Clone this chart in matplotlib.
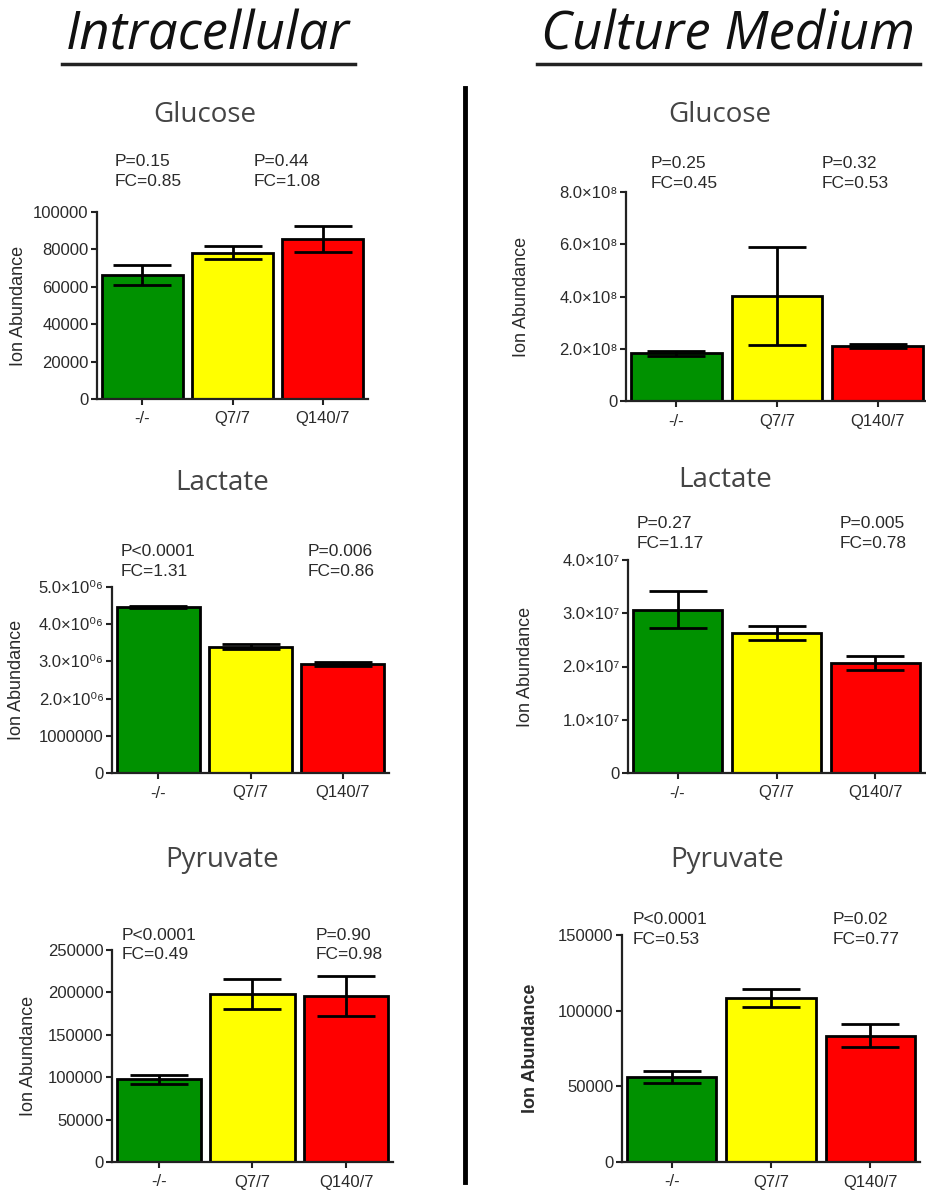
import matplotlib
matplotlib.use('Agg')
import matplotlib.pyplot as plt
from matplotlib.lines import Line2D

plt.rcParams['font.family'] = ['Liberation Sans', 'DejaVu Sans']

W, H = 926, 1196

# --- data ---
groups = ['-/-', 'Q7/7', 'Q140/7']
bar_colors = ['#009100', '#FFFF00', '#FF0000']

# intracellular
ic_glucose_mean = [66300, 78200, 85500]
ic_glucose_sem = [5500, 3500, 6800]
ic_lactate_mean = [4.46e6, 3.40e6, 2.93e6]
ic_lactate_sem = [0.02e6, 0.08e6, 0.06e6]
ic_pyruvate_mean = [97300, 198000, 195700]
ic_pyruvate_sem = [5000, 17500, 23500]

# culture medium
cm_glucose_mean = [1.82e8, 4.03e8, 2.11e8]
cm_glucose_sem = [0.10e8, 1.87e8, 0.08e8]
cm_lactate_mean = [3.07e7, 2.63e7, 2.06e7]
cm_lactate_sem = [0.35e7, 0.13e7, 0.13e7]
cm_pyruvate_mean = [56200, 108300, 83400]
cm_pyruvate_sem = [4200, 6000, 7700]

# statistics text (vs -/- and Q140/7 vs Q7/7)
ic_glucose_stats = ['P=0.15\nFC=0.85', 'P=0.44\nFC=1.08']
ic_lactate_stats = ['P<0.0001\nFC=1.31', 'P=0.006\nFC=0.86']
ic_pyruvate_stats = ['P<0.0001\nFC=0.49', 'P=0.90\nFC=0.98']
cm_glucose_stats = ['P=0.25\nFC=0.45', 'P=0.32\nFC=0.53']
cm_lactate_stats = ['P=0.27\nFC=1.17', 'P=0.005\nFC=0.78']
cm_pyruvate_stats = ['P<0.0001\nFC=0.53', 'P=0.02\nFC=0.77']

# y ticks
ic_glucose_ticks = [0, 20000, 40000, 60000, 80000, 100000]
ic_glucose_ticklabels = ['0', '20000', '40000', '60000', '80000', '100000']
ic_lactate_ticks = [0, 1e6, 2e6, 3e6, 4e6, 5e6]
ic_lactate_ticklabels = ['0', '1000000', '2.0×10⁰⁶', '3.0×10⁰⁶', '4.0×10⁰⁶', '5.0×10⁰⁶']
ic_pyruvate_ticks = [0, 50000, 100000, 150000, 200000, 250000]
ic_pyruvate_ticklabels = ['0', '50000', '100000', '150000', '200000', '250000']
cm_glucose_ticks = [0, 2e8, 4e8, 6e8, 8e8]
cm_glucose_ticklabels = ['0', '2.0×10⁸', '4.0×10⁸', '6.0×10⁸', '8.0×10⁸']
cm_lactate_ticks = [0, 1e7, 2e7, 3e7, 4e7]
cm_lactate_ticklabels = ['0', '1.0×10⁷', '2.0×10⁷', '3.0×10⁷', '4.0×10⁷']
cm_pyruvate_ticks = [0, 50000, 100000, 150000]
cm_pyruvate_ticklabels = ['0', '50000', '100000', '150000']


def px_rect(l, t, r, b):
    return [l / W, 1 - b / H, (r - l) / W, (b - t) / H]


# panel layout: name, axes box in px, title centre in px, stats x/y (data), ylabel x (axes frac)
panels = [
    dict(name='Glucose', box=(97, 212, 368, 399), title=(205, 115),
         mean=ic_glucose_mean, sem=ic_glucose_sem, stats=ic_glucose_stats,
         ticks=ic_glucose_ticks, labels=ic_glucose_ticklabels,
         sx=[-0.31, 1.23], sy=121700, ylx=-0.26, bold=False),
    dict(name='Lactate', box=(112, 587, 389, 773), title=(222, 483),
         mean=ic_lactate_mean, sem=ic_lactate_sem, stats=ic_lactate_stats,
         ticks=ic_lactate_ticks, labels=ic_lactate_ticklabels,
         sx=[-0.41, 1.62], sy=5.69e6, ylx=-0.314, bold=False),
    dict(name='Pyruvate', box=(112, 950, 393, 1162), title=(222, 860),
         mean=ic_pyruvate_mean, sem=ic_pyruvate_sem, stats=ic_pyruvate_stats,
         ticks=ic_pyruvate_ticks, labels=ic_pyruvate_ticklabels,
         sx=[-0.40, 1.67], sy=255900, ylx=-0.267, bold=False),
    dict(name='Glucose', box=(626, 192, 928, 401), title=(720, 115),
         mean=cm_glucose_mean, sem=cm_glucose_sem, stats=cm_glucose_stats,
         ticks=cm_glucose_ticks, labels=cm_glucose_ticklabels,
         sx=[-0.26, 1.44], sy=8.72e8, ylx=-0.318, bold=False),
    dict(name='Lactate', box=(628, 560, 925, 773), title=(725, 480),
         mean=cm_lactate_mean, sem=cm_lactate_sem, stats=cm_lactate_stats,
         ticks=cm_lactate_ticks, labels=cm_lactate_ticklabels,
         sx=[-0.41, 1.64], sy=4.50e7, ylx=-0.317, bold=False),
    dict(name='Pyruvate', box=(622, 935, 920, 1162), title=(727, 860),
         mean=cm_pyruvate_mean, sem=cm_pyruvate_sem, stats=cm_pyruvate_stats,
         ticks=cm_pyruvate_ticks, labels=cm_pyruvate_ticklabels,
         sx=[-0.39, 1.62], sy=153600, ylx=-0.279, bold=True),
]

fig = plt.figure(figsize=(W / 100, H / 100), dpi=100)

for p in panels:
    ax = fig.add_axes(px_rect(*p['box']))
    x = range(len(groups))
    ax.bar(x, p['mean'], width=0.9, color=bar_colors, edgecolor='black',
           linewidth=2, zorder=2)
    ax.errorbar(x, p['mean'], yerr=p['sem'], fmt='none', ecolor='black',
                elinewidth=2, capsize=21, capthick=2, zorder=3)
    ax.set_xlim(-0.5, 2.5)
    ax.set_ylim(0, p['ticks'][-1])
    ax.set_xticks(list(x), groups)
    ax.set_yticks(p['ticks'], p['labels'])
    for s in ['top', 'right']:
        ax.spines[s].set_visible(False)
    for s in ['left', 'bottom']:
        ax.spines[s].set_linewidth(1.6)
        ax.spines[s].set_color('#222222')
    ax.tick_params(axis='both', direction='out', length=4, width=1.5,
                   color='#222222', labelsize=12, labelcolor='#2a2a2a')
    ax.tick_params(axis='x', pad=5)
    ax.tick_params(axis='y', pad=2)
    ax.set_ylabel('Ion Abundance', fontsize=13, color='#2a2a2a',
                  fontweight='bold' if p['bold'] else 'normal')
    ax.yaxis.set_label_coords(p['ylx'], 0.5)
    for sx, txt in zip(p['sx'], p['stats']):
        ax.text(sx, p['sy'], txt, ha='left', va='center', fontsize=12.5,
                color='#2a2a2a', linespacing=1.4, clip_on=False)
    fig.text(p['title'][0] / W, 1 - p['title'][1] / H, p['name'],
             family='Open Sans', fontsize=20, color='#444444',
             ha='center', va='center')

# column headings with underline
for label, cx, x0, x1 in [('Intracellular', 208, 62, 355),
                          ('Culture Medium', 728, 537, 920)]:
    fig.text(cx / W, 1 - 36 / H, label, family='Open Sans', style='italic',
             fontsize=38, color='#111111', ha='center', va='center')
    fig.add_artist(Line2D([x0 / W, x1 / W], [1 - 64 / H, 1 - 64 / H],
                          color='#222222', linewidth=2.5))

# divider between the two columns
fig.add_artist(Line2D([465 / W, 465 / W], [1 - 88 / H, 1 - 1182 / H],
                      color='black', linewidth=3.5))

fig.savefig('out.png', dpi=100)
